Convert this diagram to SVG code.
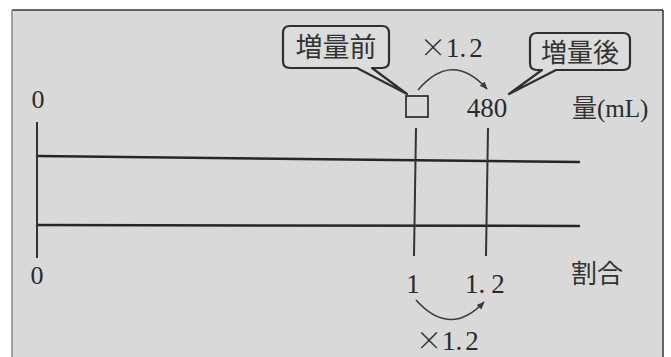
<svg xmlns="http://www.w3.org/2000/svg" width="671" height="357" viewBox="0 0 671 357">
<defs>
<style>
.num{font-family:"Liberation Serif","Noto Serif",serif;fill:#2a2a2a;}
.jp{font-family:"Noto Sans CJK JP","Noto Sans",sans-serif;fill:#333;}
.ln{stroke:#262626;stroke-width:2.5;fill:none;stroke-linecap:round;}
.vl{stroke:#333;stroke-width:2;fill:none;}
.call{fill:#dcdcdc;stroke:#2f2f2f;stroke-width:2.2;stroke-linejoin:round;}
.arc{stroke:#3a3a3a;stroke-width:1.6;fill:none;}
.x{font-family:"Noto Sans CJK JP",sans-serif;font-weight:300;}
</style>
<marker id="ah" viewBox="0 0 10 10" refX="9" refY="5" markerWidth="8" markerHeight="8" orient="auto" markerUnits="userSpaceOnUse">
<path d="M0,1 L10,5 L0,9 Z" fill="#3a3a3a"/>
</marker>
</defs>
<rect x="0" y="0" width="671" height="357" fill="#ffffff"/>
<rect x="12" y="10" width="651" height="347" fill="#d9d9d9"/>
<line x1="12" y1="10" x2="663" y2="10" stroke="#333" stroke-width="1.5"/>
<line x1="12" y1="10" x2="12" y2="357" stroke="#888" stroke-width="1.5"/>
<line x1="663" y1="10" x2="663" y2="357" stroke="#333" stroke-width="1.5"/>

<g id="connectors">
<line class="ln" x1="37" y1="156" x2="579" y2="162"/>
<line class="ln" x1="37" y1="225" x2="579" y2="226"/>
<line class="vl" x1="37" y1="122" x2="37" y2="258"/>
<line class="vl" x1="416" y1="128" x2="414" y2="256"/>
<line class="vl" x1="488" y1="128" x2="486" y2="256"/>
<path class="arc" d="M418,90 Q452,50 487,89" marker-end="url(#ah)"/>
<path class="arc" d="M416,300 Q450,338 484,302" marker-end="url(#ah)"/>
</g>

<g id="zero-top"><text class="num" x="38" y="108" font-size="26" text-anchor="middle">0</text></g>
<g id="zero-bottom"><text class="num" x="37" y="284" font-size="26" text-anchor="middle">0</text></g>

<g id="before-box"><rect x="406" y="96" width="22" height="21" fill="none" stroke="#333" stroke-width="1.8"/></g>
<g id="v480"><text class="num" x="487" y="117" font-size="27" text-anchor="middle">480</text></g>
<g id="qty-label"><text class="jp" x="572" y="117" font-size="25">量<tspan class="num" font-size="25">(mL)</tspan></text></g>

<g id="callout-before">
<path class="call" d="M290,26 H382 Q389,26 389,33 V61 Q389,68 382,68 H372 L407,94 L357,68 H290 Q283,68 283,61 V33 Q283,26 290,26 Z"/>
<text class="jp" x="336" y="57" font-size="27" text-anchor="middle">増量前</text>
</g>
<g id="callout-after">
<path class="call" d="M537,33 H623 Q630,33 630,40 V63 Q630,70 623,70 H556 L509,94 L542,70 H537 Q530,70 530,63 V40 Q530,33 537,33 Z"/>
<text class="jp" x="580" y="62" font-size="26" text-anchor="middle">増量後</text>
</g>

<g id="times-top"><text class="num" x="420" y="57" font-size="27"><tspan class="x" font-size="26">×</tspan>1.<tspan dx="3">2</tspan></text></g>

<g id="one"><text class="num" x="413" y="293" font-size="27" text-anchor="middle">1</text></g>
<g id="one-two"><text class="num" x="465" y="293" font-size="27">1.<tspan dx="6">2</tspan></text></g>
<g id="ratio-label"><text class="jp" x="597" y="283" font-size="26" text-anchor="middle">割合</text></g>
<g id="times-bottom"><text class="num" x="416" y="350" font-size="27"><tspan class="x" font-size="26">×</tspan>1.<tspan dx="3">2</tspan></text></g>
</svg>
